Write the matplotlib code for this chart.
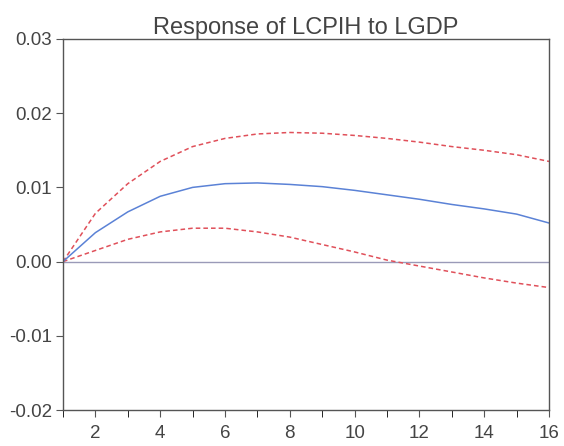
import matplotlib
matplotlib.use("Agg")
import matplotlib.pyplot as plt
import numpy as np

plt.rcParams['font.family'] = ['Liberation Sans', 'DejaVu Sans']

periods = list(range(1, 17))
response = [0.0, 0.0039, 0.0067, 0.0088, 0.0100, 0.0105, 0.0106, 0.0104,
            0.0101, 0.0096, 0.0090, 0.0084, 0.0077, 0.0071, 0.0064, 0.0052]
upper = [0.0, 0.0065, 0.0105, 0.0135, 0.0155, 0.0166, 0.0172, 0.0174,
         0.0173, 0.0170, 0.0166, 0.0161, 0.0155, 0.0150, 0.0144, 0.0135]
lower = [0.0, 0.0015, 0.0030, 0.0040, 0.0045, 0.0045, 0.0040, 0.0033,
         0.0023, 0.0013, 0.0002, -0.0006, -0.0014, -0.0022, -0.0029, -0.0035]

fig = plt.figure(figsize=(5.64, 4.46), dpi=100)
ax = fig.add_axes([0.1117, 0.0807, 0.8617, 0.8319])

ax.axhline(0, color='#9a9ab8', lw=1.0, zorder=1)
ax.plot(periods, upper, color='#e0505a', lw=1.1, ls=(0, (3, 2)))
ax.plot(periods, lower, color='#e0505a', lw=1.1, ls=(0, (3, 2)))
ax.plot(periods, response, color='#5b82d6', lw=1.1)

ax.set_xlim(1, 16)
ax.set_ylim(-0.02, 0.03)
ax.set_xticks(range(2, 17, 2))
ax.set_xticks(range(1, 17), minor=True)
ax.set_yticks([-0.02, -0.01, 0.0, 0.01, 0.02, 0.03])
ax.set_yticklabels(['-0.02', '-0.01', '0.00', '0.01', '0.02', '0.03'])

for s in ax.spines.values():
    s.set_color('#555555')
    s.set_linewidth(1.0)
ax.tick_params(axis='both', colors='#555555', labelcolor='#444444', labelsize=13.5)
ax.tick_params(axis='x', which='both', direction='out', length=5, pad=6)
ax.tick_params(axis='y', direction='out', length=5, pad=3)

ax.set_title('Response of LCPIH to LGDP', fontsize=17, color='#444444', pad=2)

fig.savefig('out.png', dpi=100)
